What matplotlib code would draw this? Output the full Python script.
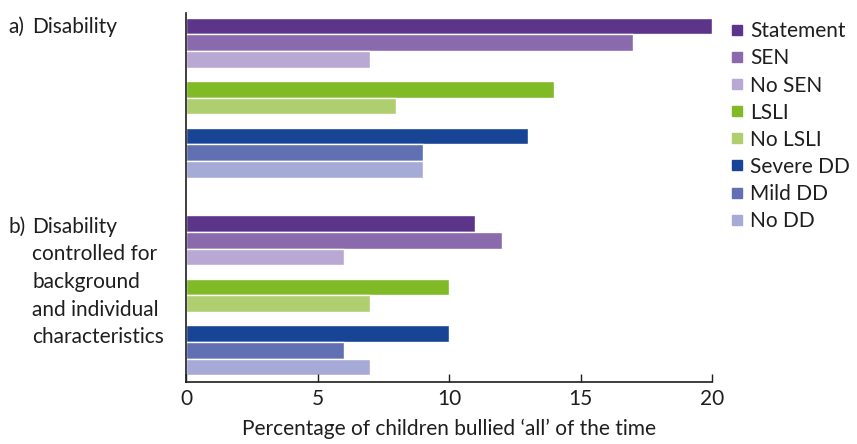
import numpy as np
import matplotlib
matplotlib.use("Agg")
import matplotlib.pyplot as plt
from matplotlib.lines import Line2D

plt.rcParams['font.family'] = ['Lato', 'DejaVu Sans']
TXT = '#1e1e1e'

# data
labels = ['Statement', 'SEN', 'No SEN', 'LSLI', 'No LSLI', 'Severe DD', 'Mild DD', 'No DD']
colors = ['#5c358a', '#8a6aad', '#b9a8d3', '#80ba27', '#afce6f', '#184496', '#6170b3', '#a6aad6']
vals_a = [20, 17, 7, 14, 8, 13, 9, 9]
vals_b = [11, 12, 6, 10, 7, 10, 6, 7]
text_b = ["Disability", "controlled for", "background", "and individual", "characteristics"]

# bar positions (units of bar height), top to bottom
sub_gap = 0.8
panel_gap = 2.25
pos = []
y = 0.0
for panel in range(2):
    for k in range(8):
        pos.append(y)
        if k in (2, 4):
            y += 1 + sub_gap
        elif k == 7:
            y += 1 + panel_gap
        else:
            y += 1
pos = np.array(pos)

fig = plt.figure(figsize=(8.57, 4.44), dpi=100)
ax = fig.add_axes([0.217, 0.1396, 0.614, 0.8311])

ax.barh(pos[:8], vals_a, height=1.0, color=colors, edgecolor='white', linewidth=1.0)
ax.barh(pos[8:], vals_b, height=1.0, color=colors, edgecolor='white', linewidth=1.0)

ax.set_ylim(pos[-1] + 0.9, -0.78)
ax.set_xlim(0, 20)
ax.set_xticks([0, 5, 10, 15, 20])
ax.set_yticks([])
ax.tick_params(axis='x', direction='in', length=6, width=1, labelsize=15, pad=5, colors=TXT)
for s in ['top', 'right']:
    ax.spines[s].set_visible(False)
for s in ['left', 'bottom']:
    ax.spines[s].set_linewidth(1.2)
    ax.spines[s].set_color(TXT)
ax.set_xlabel("Percentage of children bullied \u2018all\u2019 of the time", fontsize=15, color=TXT, labelpad=7)

# left group labels
fig.text(8 / 857, 1 - 27 / 444, "a)", fontsize=15, va='center', color=TXT)
fig.text(32 / 857, 1 - 27 / 444, "Disability", fontsize=15, va='center', color=TXT)
fig.text(8 / 857, 1 - 227 / 444, "b)", fontsize=15, va='center', color=TXT)
for i, line in enumerate(text_b):
    fig.text(32 / 857, 1 - (227 + 27.5 * i) / 444, line, fontsize=15, va='center', color=TXT)

# legend
handles = [Line2D([], [], marker='s', linestyle='none', markersize=7, markerfacecolor=c, markeredgecolor=c)
           for c in colors]
fig.legend(handles, labels, loc='upper left', bbox_to_anchor=(722 / 857, 1 - 13 / 444), frameon=False,
           fontsize=15, handlelength=0.6, handletextpad=0.35, labelspacing=0.34, borderaxespad=0,
           labelcolor=TXT)

fig.savefig('out.png', dpi=100)
